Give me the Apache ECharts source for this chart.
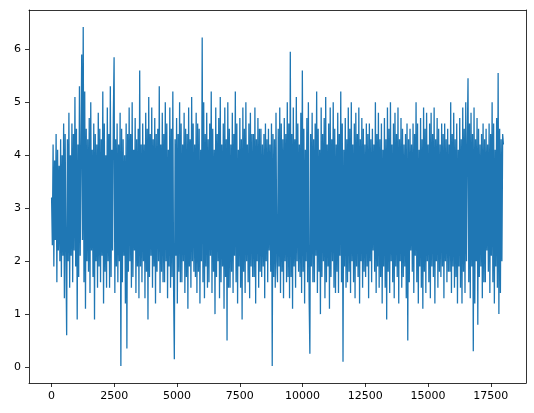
<!DOCTYPE html><html><head><meta charset="utf-8"><script src="https://cdn.jsdelivr.net/npm/echarts@6/dist/echarts.min.js"></script></head><body style="margin:0"><div id="c" style="width:534px;height:413px"></div><script>
const xEnd = 18000;
const values = [
3.2,2.3,4.2,1.9,3.9,2.4,4.4,1.6,4.1,2.2,3.8,2.0,4.3,1.7,4.0,2.1,4.6,1.3,4.4,2.2,
0.6,4.3,2.0,4.8,1.5,4.0,2.1,4.6,1.6,4.4,2.2,5.1,1.9,4.5,0.9,4.2,1.7,5.3,2.1,4.0,
5.9,2.4,6.42,1.6,5.2,1.1,4.5,2.0,4.3,1.8,4.7,1.4,5.0,2.2,4.1,1.7,4.6,0.9,4.4,2.0,
4.2,1.5,4.8,1.9,4.5,1.6,4.3,2.1,5.2,1.2,4.6,1.8,4.0,1.5,4.9,2.0,4.4,1.5,5.3,1.7,
4.1,2.2,4.7,5.85,1.4,4.3,1.9,4.6,1.6,4.2,2.0,4.8,0.02,4.5,1.6,4.3,2.1,4.0,1.2,4.6,
0.35,4.4,1.8,4.9,2.0,4.4,1.5,5.0,1.7,4.1,2.2,4.7,1.4,4.3,1.9,4.5,1.3,5.6,1.9,4.2,
1.6,4.6,2.0,4.2,1.3,4.8,1.8,4.5,0.9,5.1,1.7,4.4,2.1,4.9,1.5,4.3,1.9,4.7,1.2,4.4,
1.8,4.5,2.0,5.3,1.4,4.2,1.8,4.8,1.6,4.4,1.6,5.0,2.0,4.6,1.3,4.1,1.9,4.9,1.5,4.5,
1.7,5.2,1.5,0.15,4.3,2.1,4.7,1.2,4.4,1.8,5.0,1.6,4.6,1.6,4.2,2.0,4.8,1.4,4.5,1.7,
4.4,1.1,4.9,1.9,4.3,1.5,5.1,2.0,4.6,1.8,4.2,1.7,4.8,1.4,4.6,1.8,4.5,1.2,4.1,2.0,
6.22,1.6,5.0,1.3,4.4,1.9,4.8,1.5,4.3,1.6,4.6,2.1,5.2,1.4,4.5,1.8,4.1,1.0,4.9,1.7,
4.4,2.0,4.7,1.3,5.1,1.6,4.2,1.9,4.6,1.1,4.9,1.7,4.3,0.5,5.0,1.5,4.5,1.5,4.2,1.8,
4.8,1.4,4.4,2.1,5.2,1.6,4.6,1.2,4.1,1.9,4.7,1.5,4.3,0.9,4.9,1.8,4.5,1.4,5.0,2.0,
4.2,1.6,4.6,1.3,4.8,1.9,4.4,1.7,4.4,1.7,4.9,1.2,4.3,2.0,4.7,1.5,4.5,1.8,4.5,1.7,
4.2,1.9,4.4,1.3,4.6,2.0,4.3,1.6,4.5,2.2,4.2,1.8,4.6,0.02,4.4,1.7,4.3,1.5,4.8,2.0,
1.6,4.5,1.9,4.9,1.4,4.6,1.8,4.3,1.3,4.7,2.0,4.4,1.6,5.0,1.7,4.6,1.3,5.95,1.7,4.4,
1.1,4.9,1.9,4.3,1.5,5.1,2.0,4.6,1.8,4.2,1.7,4.8,1.4,5.6,1.8,4.5,1.2,4.1,2.0,4.7,
1.6,5.0,1.3,0.25,4.4,1.9,4.8,1.6,4.3,1.6,4.6,2.1,5.2,1.4,4.5,1.8,4.1,1.0,4.9,1.7,
4.4,2.0,4.7,1.3,5.1,1.6,4.2,1.9,4.6,1.1,4.9,1.7,4.3,2.0,5.0,1.5,4.5,1.4,4.2,1.8,
4.8,1.4,4.4,2.1,5.2,1.6,4.6,0.1,4.1,1.9,4.7,1.5,4.3,1.6,4.9,1.8,4.5,1.4,5.0,2.0,
4.2,1.6,4.6,1.3,4.8,1.9,4.4,1.7,4.9,1.2,4.3,2.0,4.7,1.5,4.5,1.8,4.2,1.7,4.6,1.9,
4.4,1.3,4.6,2.0,4.3,1.6,4.5,2.2,4.2,1.8,5.0,1.4,4.4,1.9,4.8,1.5,4.3,1.7,4.6,1.2,
4.1,1.9,4.7,1.5,4.3,0.9,4.9,1.8,4.5,1.4,5.0,2.0,4.2,1.6,4.6,1.3,4.8,1.9,4.4,1.7,
4.9,1.2,4.3,2.0,4.7,1.5,4.5,1.7,4.2,1.9,4.4,1.3,4.6,0.5,4.3,1.6,4.5,2.2,4.2,1.8,
4.6,1.4,4.4,2.1,5.0,1.6,4.6,1.2,4.1,1.9,4.7,1.5,4.3,1.1,4.9,1.8,4.5,1.4,4.8,2.0,
4.2,1.6,4.6,1.3,4.8,1.9,4.4,1.7,4.9,1.2,4.3,2.0,4.7,1.5,4.5,1.8,4.2,1.7,4.6,1.9,
4.4,1.3,4.6,2.0,4.3,1.6,4.5,1.8,4.2,1.8,5.0,1.4,4.4,1.9,4.8,1.5,4.3,1.7,4.6,1.2,
4.1,1.9,4.7,1.5,4.3,1.2,4.9,1.8,4.5,1.4,5.0,2.0,4.2,5.45,1.6,4.6,1.3,4.8,1.9,4.4,
0.3,4.9,1.2,4.3,2.0,4.7,0.8,4.5,1.7,4.2,1.9,4.4,1.3,4.6,1.6,4.3,1.6,4.5,2.2,4.2,
1.8,4.6,1.4,4.4,2.1,5.0,1.6,4.6,1.2,4.1,1.9,4.7,1.5,5.55,1.0,4.5,1.4,4.3,2.0,4.4,
4.2
];
const xTicks = [0,2500,5000,7500,10000,12500,15000,17500];
const yTicks = [0,1,2,3,4,5,6];
const step = xEnd/(values.length-1);
const data = values.map((v,i)=>[i*step, v]);
const chart = echarts.init(document.getElementById('c'));
const ls = {color:'#000',width:0.8};
const lbl = {color:'#000',fontSize:11,fontFamily:'DejaVu Sans',formatter:v=>String(v)};
chart.setOption({
 animation:false,
 grid:{left:29,right:8,top:10,bottom:30},
 xAxis:[{type:'value',min:-900,max:18900,
  axisLine:{show:true,onZero:false,lineStyle:ls},
  axisTick:{show:true,length:4,customValues:xTicks,lineStyle:ls},
  axisLabel:Object.assign({customValues:xTicks},lbl),
  splitLine:{show:false}},
  {type:'value',position:'top',min:-900,max:18900,axisLine:{show:true,onZero:false,lineStyle:ls},axisTick:{show:false},axisLabel:{show:false},splitLine:{show:false}}],
 yAxis:[{type:'value',min:-0.3,max:6.74,
  axisLine:{show:true,onZero:false,lineStyle:ls},
  axisTick:{show:true,length:4,customValues:yTicks,lineStyle:ls},
  axisLabel:Object.assign({customValues:yTicks},lbl),
  splitLine:{show:false}},
  {type:'value',position:'right',min:-0.3,max:6.74,axisLine:{show:true,onZero:false,lineStyle:ls},axisTick:{show:false},axisLabel:{show:false},splitLine:{show:false}}],
 series:[{type:'line',data:data,showSymbol:false,lineStyle:{color:'#1f77b4',width:1.3}}]
});
</script></body></html>
